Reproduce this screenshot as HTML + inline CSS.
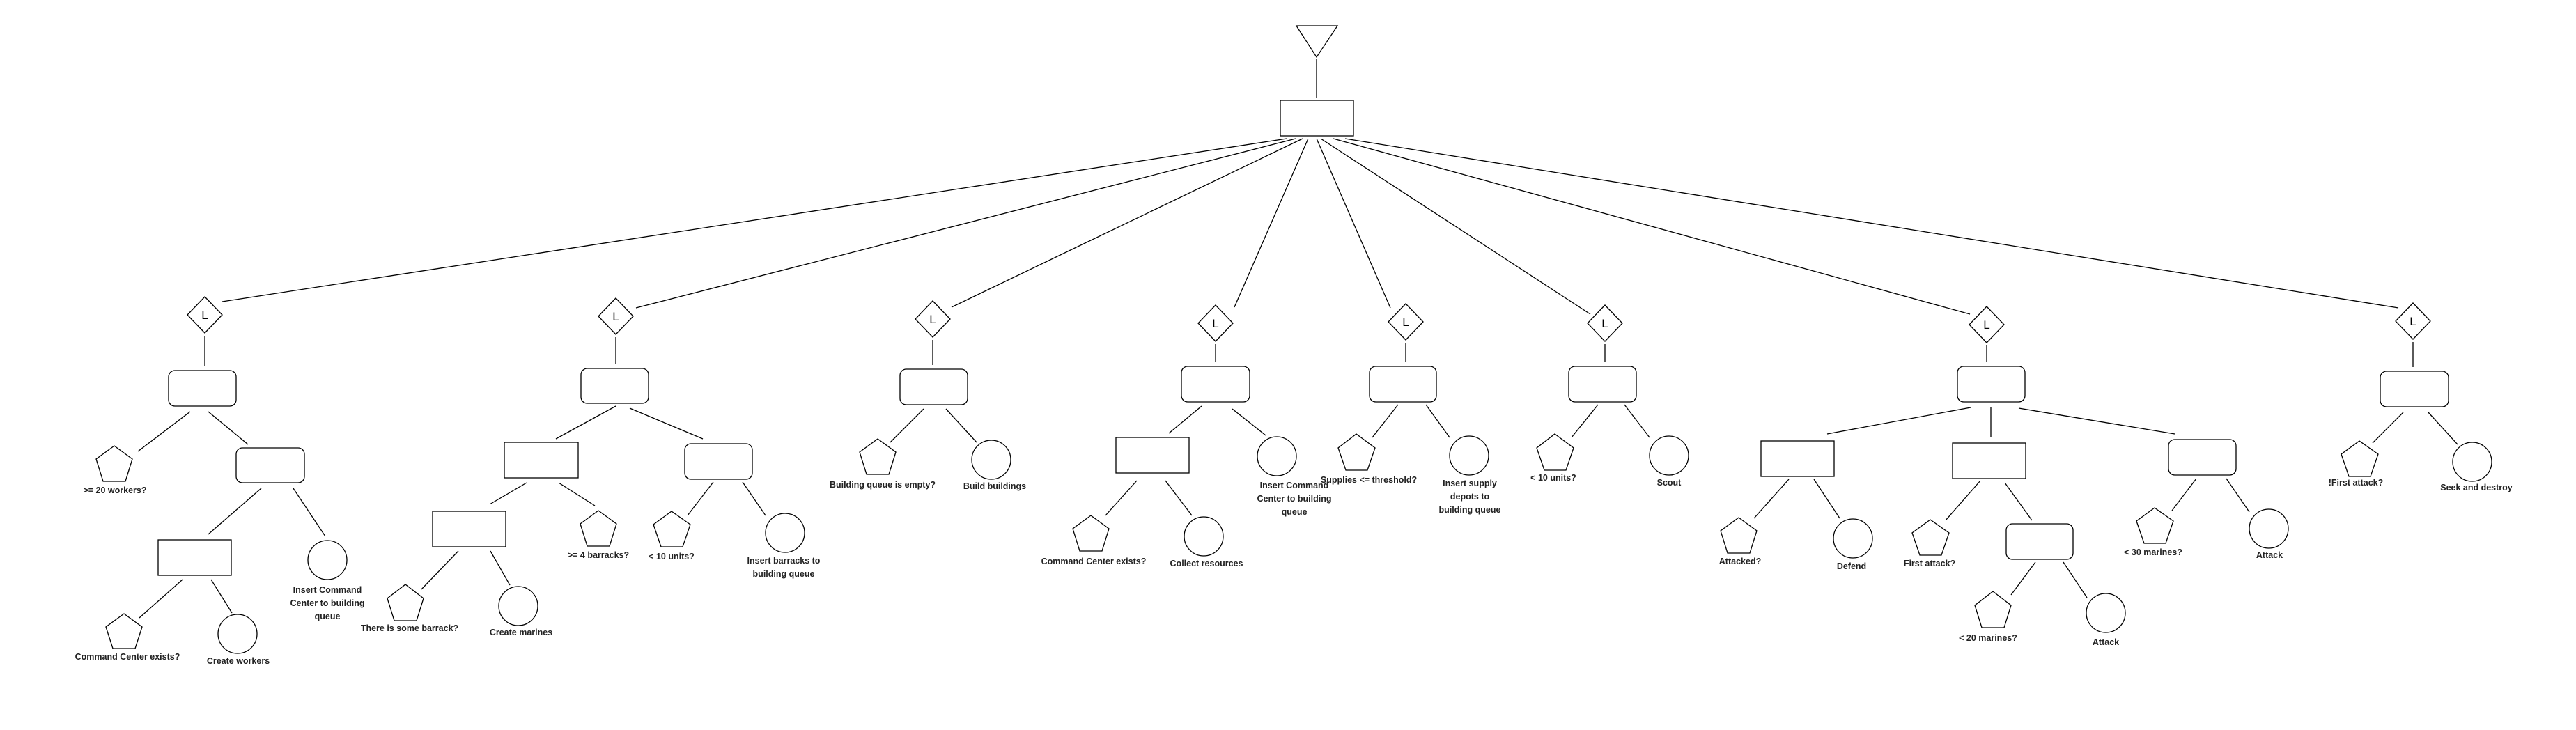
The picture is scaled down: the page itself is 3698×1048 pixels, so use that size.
<!DOCTYPE html>
<html><head><meta charset="utf-8"><style>
html,body{margin:0;padding:0;background:#fff;}
svg{display:block;}
text{font-family:"Liberation Sans",sans-serif;font-weight:bold;font-size:12.5px;fill:#222;text-anchor:middle;}
.d{font-size:17px;font-weight:normal;fill:#000;}
</style></head><body>
<svg width="3698" height="1048" viewBox="0 0 3698 1048" xmlns="http://www.w3.org/2000/svg">
<g fill="#fff" stroke="#000" stroke-width="1.3">
<!-- root -->
<polygon points="1861,37 1920,37 1890,82"/>
<line x1="1890" y1="85" x2="1890" y2="140"/>
<rect x="1838" y="144" width="105" height="51"/>
<!-- root connectors -->
<line x1="1847" y1="199" x2="319" y2="433"/>
<line x1="1860" y1="199" x2="913" y2="442"/>
<line x1="1870" y1="199" x2="1366" y2="441"/>
<line x1="1878" y1="199" x2="1772" y2="441"/>
<line x1="1890" y1="199" x2="1996" y2="442"/>
<line x1="1896" y1="199" x2="2283" y2="451"/>
<line x1="1914" y1="199" x2="2828" y2="451"/>
<line x1="1931" y1="199" x2="3443" y2="442"/>
<!-- diamonds -->
<polygon points="294,426 319,452 294,478 269,452"/>
<polygon points="884,428 909,454 884,480 859,454"/>
<polygon points="1339,432 1364,458 1339,484 1314,458"/>
<polygon points="1745,438 1770,464 1745,490 1720,464"/>
<polygon points="2018,436 2043,462 2018,488 1993,462"/>
<polygon points="2304,438 2329,464 2304,490 2279,464"/>
<polygon points="2852,440 2877,466 2852,492 2827,466"/>
<polygon points="3464,435 3489,461 3464,487 3439,461"/>
<line x1="294" y1="482" x2="294" y2="526"/>
<line x1="884" y1="484" x2="884" y2="523"/>
<line x1="1339" y1="488" x2="1339" y2="524"/>
<line x1="1745" y1="494" x2="1745" y2="520"/>
<line x1="2018" y1="492" x2="2018" y2="520"/>
<line x1="2304" y1="494" x2="2304" y2="520"/>
<line x1="2852" y1="496" x2="2852" y2="520"/>
<line x1="3464" y1="491" x2="3464" y2="527"/>
<!-- rounded rects -->
<rect x="242" y="532" width="97" height="51" rx="9"/>
<rect x="339" y="643" width="98" height="50" rx="9"/>
<rect x="834" y="529" width="97" height="50" rx="9"/>
<rect x="983" y="637" width="97" height="51" rx="9"/>
<rect x="1292" y="530" width="97" height="51" rx="9"/>
<rect x="1696" y="526" width="98" height="51" rx="9"/>
<rect x="1966" y="526" width="96" height="51" rx="9"/>
<rect x="2252" y="526" width="97" height="51" rx="9"/>
<rect x="2810" y="526" width="97" height="51" rx="9"/>
<rect x="3113" y="631" width="97" height="51" rx="9"/>
<rect x="2880" y="752" width="96" height="51" rx="9"/>
<rect x="3417" y="533" width="98" height="51" rx="9"/>
<!-- plain rects -->
<rect x="227" y="775" width="105" height="51"/>
<rect x="724" y="635" width="106" height="51"/>
<rect x="621" y="734" width="105" height="51"/>
<rect x="1602" y="628" width="105" height="51"/>
<rect x="2528" y="633" width="105" height="51"/>
<rect x="2803" y="636" width="105" height="51"/>
<!-- edges -->
<line x1="273" y1="591" x2="198" y2="648"/>
<line x1="299" y1="591" x2="356" y2="638"/>
<line x1="375" y1="701" x2="299" y2="767"/>
<line x1="421" y1="701" x2="467" y2="770"/>
<line x1="262" y1="832" x2="200" y2="887"/>
<line x1="303" y1="832" x2="333" y2="880"/>
<line x1="884" y1="583" x2="798" y2="630"/>
<line x1="904" y1="586" x2="1009" y2="630"/>
<line x1="756" y1="693" x2="703" y2="724"/>
<line x1="802" y1="693" x2="854" y2="726"/>
<line x1="1024" y1="692" x2="987" y2="740"/>
<line x1="1066" y1="692" x2="1099" y2="740"/>
<line x1="658" y1="791" x2="605" y2="846"/>
<line x1="704" y1="791" x2="732" y2="840"/>
<line x1="1326" y1="587" x2="1278" y2="635"/>
<line x1="1358" y1="587" x2="1402" y2="635"/>
<line x1="1725" y1="583" x2="1678" y2="622"/>
<line x1="1769" y1="587" x2="1817" y2="625"/>
<line x1="1632" y1="690" x2="1587" y2="740"/>
<line x1="1673" y1="690" x2="1711" y2="740"/>
<line x1="2007" y1="581" x2="1970" y2="628"/>
<line x1="2047" y1="581" x2="2081" y2="628"/>
<line x1="2294" y1="581" x2="2256" y2="628"/>
<line x1="2332" y1="581" x2="2368" y2="628"/>
<line x1="2829" y1="585" x2="2623" y2="623"/>
<line x1="2858" y1="585" x2="2858" y2="628"/>
<line x1="2898" y1="586" x2="3122" y2="623"/>
<line x1="2568" y1="688" x2="2518" y2="744"/>
<line x1="2604" y1="688" x2="2641" y2="744"/>
<line x1="2843" y1="690" x2="2793" y2="747"/>
<line x1="2878" y1="693" x2="2917" y2="747"/>
<line x1="2922" y1="807" x2="2887" y2="854"/>
<line x1="2962" y1="807" x2="2996" y2="858"/>
<line x1="3153" y1="687" x2="3118" y2="733"/>
<line x1="3196" y1="687" x2="3229" y2="735"/>
<line x1="3450" y1="592" x2="3406" y2="636"/>
<line x1="3486" y1="592" x2="3528" y2="638"/>
<!-- pentagons -->
<polygon points="164,640 190,659 180,691 148,691 138,659"/>
<polygon points="178,881 204,900 194,931 162,931 152,900"/>
<polygon points="582,839 608,859 598,891 566,891 556,859"/>
<polygon points="859,733 885,752 875,784 843,784 833,752"/>
<polygon points="964,734 991,753 980,785 949,785 938,753"/>
<polygon points="1260,630 1286,649 1276,681 1244,681 1234,649"/>
<polygon points="1566,740 1592,759 1582,791 1550,791 1540,759"/>
<polygon points="1947,623 1974,643 1963,675 1932,675 1921,643"/>
<polygon points="2232,623 2259,643 2248,675 2217,675 2206,643"/>
<polygon points="2496,743 2522,762 2512,794 2480,794 2470,762"/>
<polygon points="2771,746 2798,765 2787,797 2756,797 2745,765"/>
<polygon points="2861,849 2887,869 2877,901 2845,901 2835,869"/>
<polygon points="3093,729 3120,748 3109,780 3078,780 3067,748"/>
<polygon points="3387,633 3414,652 3403,684 3372,684 3361,652"/>
<!-- circles -->
<ellipse cx="470" cy="804" rx="28" ry="28"/>
<ellipse cx="341" cy="910" rx="28" ry="28"/>
<ellipse cx="744" cy="870" rx="28" ry="28"/>
<ellipse cx="1127" cy="765" rx="28" ry="28"/>
<ellipse cx="1423" cy="660" rx="28" ry="28"/>
<ellipse cx="1833" cy="655" rx="28" ry="28"/>
<ellipse cx="1728" cy="770" rx="28" ry="28"/>
<ellipse cx="2109" cy="654" rx="28" ry="28"/>
<ellipse cx="2396" cy="654" rx="28" ry="28"/>
<ellipse cx="2660" cy="773" rx="28" ry="28"/>
<ellipse cx="3023" cy="880" rx="28" ry="28"/>
<ellipse cx="3257" cy="759" rx="28" ry="28"/>
<ellipse cx="3549" cy="663" rx="28" ry="28"/>
</g>
<g>
<text class="d" x="294" y="458">L</text>
<text class="d" x="884" y="460">L</text>
<text class="d" x="1339" y="464">L</text>
<text class="d" x="1745" y="470">L</text>
<text class="d" x="2018" y="468">L</text>
<text class="d" x="2304" y="470">L</text>
<text class="d" x="2852" y="472">L</text>
<text class="d" x="3464" y="467">L</text>
<text x="165" y="708">&gt;= 20 workers?</text>
<text x="183" y="947">Command Center exists?</text>
<text x="342" y="953">Create workers</text>
<text x="470" y="851">Insert Command</text>
<text x="470" y="870">Center to building</text>
<text x="470" y="889">queue</text>
<text x="588" y="906">There is some barrack?</text>
<text x="748" y="912">Create marines</text>
<text x="859" y="801">&gt;= 4 barracks?</text>
<text x="964" y="803">&lt; 10 units?</text>
<text x="1125" y="809">Insert barracks to</text>
<text x="1125" y="828">building queue</text>
<text x="1267" y="700">Building queue is empty?</text>
<text x="1428" y="702">Build buildings</text>
<text x="1858" y="701">Insert Command</text>
<text x="1858" y="720">Center to building</text>
<text x="1858" y="739">queue</text>
<text x="1570" y="810">Command Center exists?</text>
<text x="1732" y="813">Collect resources</text>
<text x="1965" y="693">Supplies &lt;= threshold?</text>
<text x="2110" y="698">Insert supply</text>
<text x="2110" y="717">depots to</text>
<text x="2110" y="736">building queue</text>
<text x="2230" y="690">&lt; 10 units?</text>
<text x="2396" y="697">Scout</text>
<text x="2498" y="810">Attacked?</text>
<text x="2658" y="817">Defend</text>
<text x="2770" y="813">First attack?</text>
<text x="2854" y="920">&lt; 20 marines?</text>
<text x="3023" y="926">Attack</text>
<text x="3091" y="797">&lt; 30 marines?</text>
<text x="3258" y="801">Attack</text>
<text x="3382" y="697">!First attack?</text>
<text x="3555" y="704">Seek and destroy</text>
</g>
</svg>
</body></html>
